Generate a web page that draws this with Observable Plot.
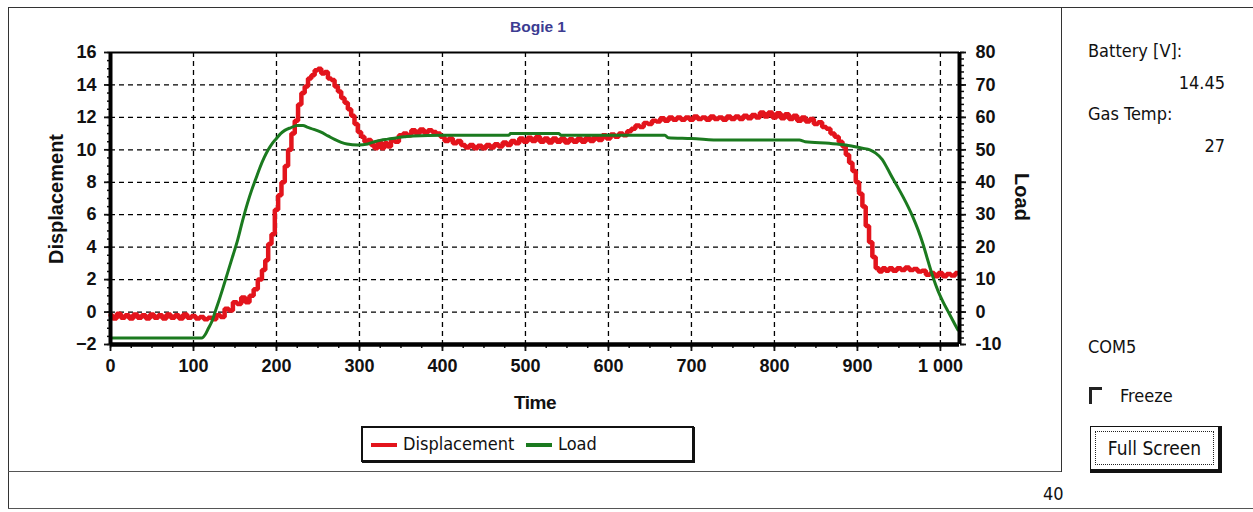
<!DOCTYPE html>
<html>
<head>
<meta charset="utf-8">
<script src="https://cdn.jsdelivr.net/npm/d3@7"></script>
<script src="https://cdn.jsdelivr.net/npm/@observablehq/plot@0.6"></script>
<style>
  html, body { margin: 0; padding: 0; background: #fff; }
  #wrap { position: relative; width: 1253px; height: 512px; overflow: hidden; background: #fff; }
  #wrap svg { position: absolute; left: 0; top: 0; }
  .abs { position: absolute; white-space: nowrap; }
  .narrow { font-family: "Liberation Sans Narrow", "DejaVu Sans Condensed", "Liberation Sans", Arial, sans-serif; color: #111; }
  .bold { font-family: "Liberation Sans", Arial, sans-serif; font-weight: bold; color: #111; }
</style>
</head>
<body>
<div id="wrap"></div>
<script>
// ---------- data ----------
const chartTitle = "Bogie 1";
const xLabel = "Time";
const yLabelLeft = "Displacement";
const yLabelRight = "Load";
const xTicks = [0, 100, 200, 300, 400, 500, 600, 700, 800, 900, 1000];
const dispTicks = [-2, 0, 2, 4, 6, 8, 10, 12, 14, 16];
const loadTicks = [-10, 0, 10, 20, 30, 40, 50, 60, 70, 80];

const dispTime = [0,5,10,15,20,25,30,35,40,45,50,55,60,65,70,75,80,85,90,95,100,105,110,115,120,125,130,135,140,145,150,155,160,165,170,175,180,185,188,192,196,200,204,208,212,216,220,224,228,232,236,240,244,248,252,256,260,264,268,272,276,280,284,288,292,296,300,304,308,312,316,320,324,328,332,336,340,345,350,355,360,365,370,375,380,385,390,395,400,405,410,415,420,425,430,435,440,445,450,455,460,465,470,475,480,485,490,495,500,505,510,515,520,525,530,535,540,545,550,555,560,565,570,575,580,585,590,595,600,605,610,615,620,625,630,635,640,645,650,655,660,665,670,675,680,685,690,695,700,705,710,715,720,725,730,735,740,745,750,755,760,765,770,775,780,785,790,795,800,805,810,815,820,825,830,835,840,845,850,855,860,865,870,875,880,884,888,892,896,900,904,908,912,916,920,924,928,932,936,940,945,950,955,960,965,970,975,980,985,990,995,1000,1005,1010,1015,1021];
const dispValue = [-0.2,-0.4,-0.1,-0.35,-0.2,-0.4,-0.15,-0.35,-0.2,-0.4,-0.15,-0.35,-0.2,-0.4,-0.15,-0.35,-0.2,-0.4,-0.15,-0.35,-0.25,-0.4,-0.3,-0.45,-0.35,-0.45,-0.2,-0.3,0.2,0.1,0.6,0.5,0.9,0.6,1.0,1.4,2.0,2.6,3.2,4.2,4.8,6.3,7.2,8.0,9.0,10.0,11.0,11.8,12.8,13.5,13.9,14.4,14.6,14.9,15.0,14.7,14.8,14.4,14.3,13.9,13.6,13.2,12.9,12.5,12.1,11.6,11.1,10.8,10.5,10.6,10.3,10.1,10.5,10.1,10.4,10.2,10.6,10.5,10.9,11.0,10.9,11.2,11.0,11.25,11.05,11.2,11.1,11.0,10.8,10.55,10.7,10.4,10.55,10.3,10.15,10.3,10.1,10.25,10.1,10.3,10.15,10.35,10.2,10.45,10.3,10.55,10.4,10.7,10.5,10.75,10.55,10.8,10.5,10.7,10.45,10.7,10.5,10.7,10.45,10.65,10.5,10.7,10.5,10.75,10.55,10.8,10.6,10.9,10.7,10.95,10.8,11.0,10.9,11.15,11.3,11.5,11.4,11.65,11.6,11.8,11.75,11.95,11.8,12.0,11.85,12.0,11.85,12.0,11.85,12.05,11.9,12.0,11.85,12.05,11.9,12.0,11.85,12.05,11.9,12.05,11.9,12.1,11.95,12.15,12.0,12.3,12.05,12.3,12.0,12.25,11.95,12.2,11.9,12.1,11.8,12.0,11.75,11.9,11.6,11.7,11.4,11.3,11.0,10.8,10.5,10.2,9.7,9.2,8.7,8.0,7.3,6.5,5.3,4.3,3.4,2.7,2.5,2.7,2.55,2.7,2.55,2.7,2.6,2.75,2.6,2.65,2.5,2.55,2.3,2.4,2.2,2.4,2.2,2.35,2.25,2.4];

const loadTime = [0,50,110,114,118,122,126,130,135,141,147,153,159,165,170,175,180,185,190,195,200,205,210,217,225,232,237,245,253,262,270,278,285,298,310,318,326,334,342,354,365,400,480,482,540,543,668,672,700,736,830,837,866,886,906,915,922,930,936,943,949,955,961,967,973,979,985,991,997,1003,1009,1015,1021];
const loadValue = [-8,-8,-8,-7,-5,-3,0,3,7,12,17,22,28,33.5,37.5,41,44.5,47.5,50,52,53.5,55,56,56.8,57.5,57.5,57,56.3,55.5,54.3,53.2,52.3,51.8,51.5,51.8,52.5,53,53.3,53.6,54,54.3,54.5,54.5,55,55,54.5,54.5,53.75,53.5,53,53,52.5,52,51.5,50.5,50,49,47,44.3,41,38.3,35.5,32.5,29.2,25.4,21,15.8,10.8,6.6,3.2,0.3,-2.6,-5.5];

const seriesNames = ["Displacement", "Load"];
const seriesColors = ["#e3141c", "#1b7a1f"];
const batteryLabel = "Battery [V]:", batteryValue = "14.45";
const gasLabel = "Gas Temp:", gasValue = "27";
const portLabel = "COM5", freezeLabel = "Freeze", buttonLabel = "Full Screen", footerValue = "40";

// ---------- build ----------
const disp = dispTime.map((t, i) => ({t, v: dispValue[i]}));
const load = loadTime.map((t, i) => ({t, v: loadValue[i]}));
const ratio = 5; // load units per displacement unit (80/16)
const xMinor = d3.range(0, 1001, 25);
const yMinor = d3.range(-2, 16.01, 0.5);
const loadMinor = d3.range(-10, 80.01, 2).map(v => v / ratio);
const gridStyle = {stroke: "#000", strokeOpacity: 1, strokeWidth: 1.3, strokeDasharray: "5,4"};

const chart = Plot.plot({
  width: 1062,
  height: 420,
  marginLeft: 110,
  marginRight: 103,
  marginTop: 52,
  marginBottom: 76,
  x: {domain: [0, 1023]},
  y: {domain: [-2, 16]},
  style: {fontFamily: "'Liberation Sans', Arial, sans-serif", fontSize: "18px", fontWeight: "bold", background: "transparent", color: "#111", overflow: "visible"},
  marks: [
    Plot.gridX(xTicks.filter(v => v > 0), gridStyle),
    Plot.gridY(dispTicks.filter(v => v > -2 && v < 16), gridStyle),
    Plot.axisX(xMinor, {anchor: "bottom", tickSize: 4, tickFormat: () => "", label: null, strokeWidth: 1.5}),
    Plot.axisX(xTicks, {anchor: "bottom", tickSize: 7, tickPadding: 8, tickFormat: d => d >= 1000 ? "1 000" : String(d), label: null, strokeWidth: 1.8}),
    Plot.axisY(yMinor, {anchor: "left", tickSize: 3, tickFormat: () => "", label: null, strokeWidth: 1.5}),
    Plot.axisY(dispTicks, {anchor: "left", tickSize: 6, tickPadding: 8, label: null, strokeWidth: 1.8}),
    Plot.axisY(loadMinor, {anchor: "right", tickSize: 4, tickFormat: () => "", label: null, strokeWidth: 1.5}),
    Plot.axisY(loadTicks.map(v => v / ratio), {anchor: "right", tickSize: 6, tickPadding: 10, tickFormat: d => String(Math.round(d * ratio)), label: null, strokeWidth: 1.8}),
    Plot.line(disp, {x: "t", y: "v", stroke: seriesColors[0], strokeWidth: 4.5, strokeLinejoin: "miter", curve: "step"}),
    Plot.line(load, {x: "t", y: d => d.v / ratio, stroke: seriesColors[1], strokeWidth: 3, curve: "monotone-x"}),
    Plot.ruleX([0], {stroke: "#000", strokeWidth: 4}),
    Plot.ruleX([1023], {stroke: "#000", strokeWidth: 4}),
    Plot.ruleY([-2], {stroke: "#000", strokeWidth: 4.5}),
    Plot.ruleY([16], {stroke: "#000", strokeWidth: 2})
  ]
});

const wrap = document.getElementById("wrap");
wrap.appendChild(chart);

function add(html, css, cls) {
  const el = document.createElement("div");
  el.className = "abs " + (cls || "");
  el.style.cssText += css;
  el.innerHTML = html;
  wrap.appendChild(el);
  return el;
}
// frame lines
add("", "left:8px;top:7px;width:1245px;height:0;border-top:1.5px solid #333;");
add("", "left:8px;top:7px;width:0;height:501px;border-left:1.5px solid #333;");
add("", "left:8px;top:508px;width:1245px;height:0;border-top:1.5px solid #555;");
add("", "left:8px;top:471px;width:1054px;height:0;border-top:1.5px solid #555;");
add("", "left:1061px;top:7px;width:0;height:465px;border-left:1.5px solid #333;");

// title and axis labels
add(chartTitle, "left:538px;top:27px;transform:translate(-50%,-50%);font-size:15.5px;color:#3c3c92;", "bold");
add(xLabel, "left:535px;top:403px;transform:translate(-50%,-50%);font-size:19px;letter-spacing:-0.5px;", "bold");
add(yLabelLeft, "left:56px;top:199px;transform:translate(-50%,-50%) rotate(-90deg);font-size:20px;", "bold");
add(yLabelRight, "left:1021px;top:197px;transform:translate(-50%,-50%) rotate(90deg);font-size:20px;", "bold");

// legend
const leg = add("", "left:361px;top:426px;width:329px;height:32px;border:2px solid #111;box-shadow:1px 1px 0 #111;font-size:18px;", "narrow");
leg.innerHTML =
  `<span style="position:absolute;left:8px;top:15px;width:26px;height:4px;background:${seriesColors[0]}"></span>` +
  `<span style="position:absolute;left:40px;top:5px;">${seriesNames[0]}</span>` +
  `<span style="position:absolute;left:163px;top:15px;width:26px;height:4px;background:${seriesColors[1]}"></span>` +
  `<span style="position:absolute;left:195px;top:5px;">${seriesNames[1]}</span>`;

// right panel
add(batteryLabel, "left:1088px;top:40px;font-size:18px;", "narrow");
add(batteryValue, "right:28px;top:72px;font-size:18px;", "narrow");
add(gasLabel, "left:1088px;top:103px;font-size:18px;", "narrow");
add(gasValue, "right:28px;top:135px;font-size:18px;", "narrow");
add(portLabel, "left:1088px;top:336px;font-size:18px;", "narrow");
add("", "left:1089px;top:387px;width:10px;height:14px;border-left:3px solid #222;border-top:3px solid #222;");
add(freezeLabel, "left:1120px;top:385px;font-size:18px;", "narrow");
const btn = add("", "left:1090px;top:426px;width:127px;height:42px;border:1.5px solid #111;border-right:4px solid #111;border-bottom:4px solid #111;background:#fff;", "narrow");
btn.innerHTML = `<div style="position:absolute;left:4px;top:4px;right:4px;bottom:4px;border:1.5px dotted #222;"></div>` +
  `<div style="position:absolute;left:0;right:0;top:10px;text-align:center;font-size:19px;">${buttonLabel}</div>`;
add(footerValue, "left:1043px;top:483px;font-size:18px;", "narrow");
</script>
</body>
</html>
